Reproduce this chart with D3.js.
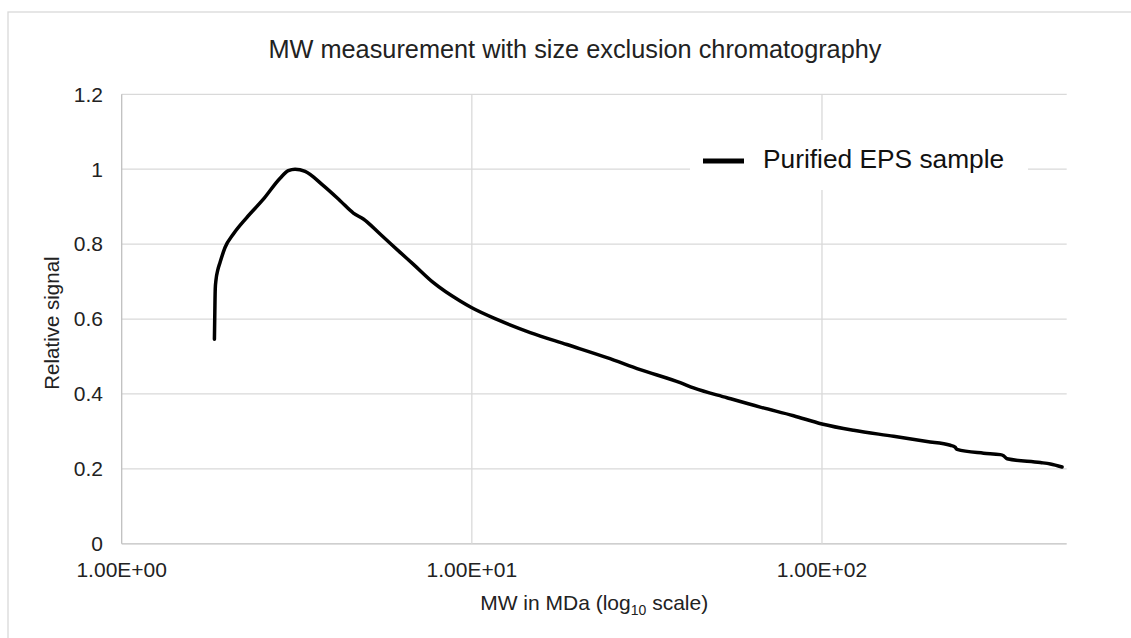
<!DOCTYPE html>
<html>
<head>
<meta charset="utf-8">
<script src="https://cdn.jsdelivr.net/npm/d3@7"></script>
<style>
  html, body { margin: 0; padding: 0; background: #fff; }
  svg { display: block; font-family: "Liberation Sans", Arial, sans-serif; }
</style>
</head>
<body>
<svg id="chart" width="1131" height="638"></svg>
<script>
// ---- data ----
const mw = [1.84, 1.845, 1.85, 1.86, 1.88, 1.909, 1.973, 2.084, 2.276, 2.539, 2.834, 2.992, 3.127, 3.341,
  3.767, 4.205, 4.588, 4.9, 5.47, 6.24, 6.811, 7.768, 9.26, 10, 11.79, 14.68, 18.68, 24.31, 30.26,
  39.37, 42.97, 53.54, 66.62, 82.96, 100, 123.1, 160.2, 199.5, 232.6, 240, 243, 289.5, 323, 330,
  337.8, 420.5, 449.1, 485];
const signal = [0.546, 0.62, 0.68, 0.706, 0.73, 0.751, 0.791, 0.827, 0.871, 0.920, 0.976, 0.996, 1.0, 0.994,
  0.956, 0.916, 0.883, 0.867, 0.827, 0.778, 0.746, 0.697, 0.648, 0.630, 0.599, 0.564, 0.532, 0.497, 0.465,
  0.430, 0.416, 0.390, 0.365, 0.342, 0.320, 0.303, 0.287, 0.273, 0.263, 0.258, 0.252, 0.242, 0.238, 0.235,
  0.227, 0.217, 0.213, 0.205];
const xTicks = [1, 10, 100];
const xTickLabels = ["1.00E+00", "1.00E+01", "1.00E+02"];
const yTicks = [0, 0.2, 0.4, 0.6, 0.8, 1, 1.2];
const yTickLabels = ["0", "0.2", "0.4", "0.6", "0.8", "1", "1.2"];
const xDomain = [1, 500];
const yDomain = [0, 1.2];
const seriesName = "Purified EPS sample";
const titleText = "MW measurement with size exclusion chromatography";
const yTitle = "Relative signal";

// ---- layout ----
const svg = d3.select("#chart");
const plot = { left: 121.7, right: 1066.7, top: 94.3, bottom: 543.8 };
const grid = "#d9d9d9";

svg.append("rect").attr("x", 8).attr("y", 12).attr("width", 1200).attr("height", 700)
  .attr("fill", "#fff").attr("stroke", grid).attr("stroke-width", 1.3);

const x = d3.scaleLog().domain(xDomain).range([plot.left, plot.right]);
const y = d3.scaleLinear().domain(yDomain).range([plot.bottom, plot.top]);

// horizontal gridlines
svg.append("g").selectAll("line").data(yTicks).join("line")
  .attr("x1", plot.left).attr("x2", plot.right)
  .attr("y1", d => y(d)).attr("y2", d => y(d))
  .attr("stroke", d => d === 0 ? "#bfbfbf" : grid).attr("stroke-width", 1.3);

// vertical gridlines
svg.append("g").selectAll("line").data(xTicks).join("line")
  .attr("x1", d => x(d)).attr("x2", d => x(d))
  .attr("y1", plot.top).attr("y2", plot.bottom)
  .attr("stroke", d => d === 1 ? "#bfbfbf" : grid).attr("stroke-width", 1.3);

// y tick labels
svg.append("g").selectAll("text").data(yTicks).join("text")
  .attr("x", 103).attr("y", d => y(d)).attr("dy", "0.35em")
  .attr("text-anchor", "end").attr("font-size", 21).attr("fill", "#222")
  .text((d, i) => yTickLabels[i]);

// x tick labels
svg.append("g").selectAll("text").data(xTicks).join("text")
  .attr("x", d => x(d)).attr("y", 577)
  .attr("text-anchor", "middle").attr("font-size", 21).attr("fill", "#222")
  .text((d, i) => xTickLabels[i]);

// title
svg.append("text").attr("x", 575).attr("y", 58)
  .attr("text-anchor", "middle").attr("font-size", 25.3).attr("fill", "#222").text(titleText);

// x axis title with subscript
const xt = svg.append("text").attr("x", (plot.left + plot.right) / 2).attr("y", 610)
  .attr("text-anchor", "middle").attr("font-size", 21).attr("fill", "#222");
xt.append("tspan").text("MW in MDa (log");
xt.append("tspan").attr("font-size", 14).attr("dy", 5).text("10");
xt.append("tspan").attr("dy", -5).text(" scale)");

// y axis title
svg.append("text").attr("transform", `translate(59,${(plot.top + plot.bottom) / 2 + 4}) rotate(-90)`)
  .attr("text-anchor", "middle").attr("font-size", 20.5).attr("fill", "#222").text(yTitle);

// legend
svg.append("rect").attr("x", 690).attr("y", 140).attr("width", 338).attr("height", 50).attr("fill", "#fff");
svg.append("line").attr("x1", 703).attr("x2", 744).attr("y1", 161).attr("y2", 161)
  .attr("stroke", "#000").attr("stroke-width", 5);
svg.append("text").attr("x", 763).attr("y", 165).attr("dy", "0.1em").attr("font-size", 26.3)
  .attr("fill", "#111").text(seriesName);

// series line
const pts = mw.map((v, i) => [v, signal[i]]);
const line = d3.line().x(d => x(d[0])).y(d => y(d[1])).curve(d3.curveMonotoneX);
svg.append("path").datum(pts).attr("d", line).attr("fill", "none")
  .attr("stroke", "#000").attr("stroke-width", 3.5).attr("stroke-linejoin", "round").attr("stroke-linecap", "round");
</script>
</body>
</html>
